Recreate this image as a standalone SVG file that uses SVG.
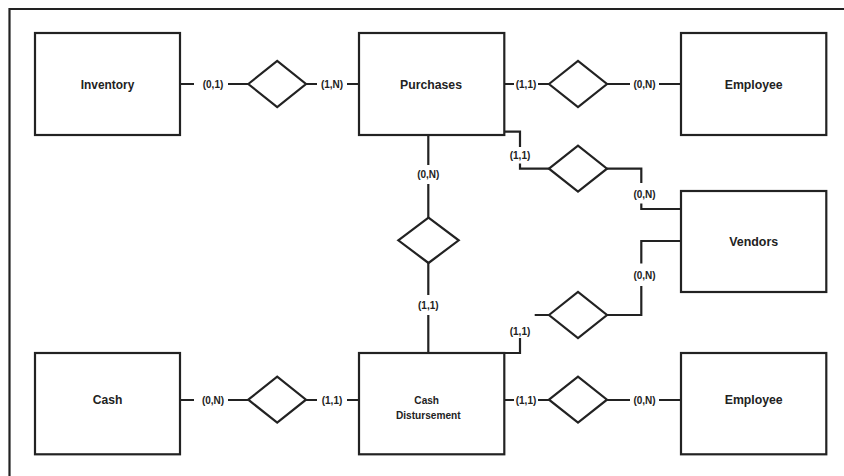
<svg xmlns="http://www.w3.org/2000/svg" width="844" height="476" viewBox="0 0 844 476">
<style>
.box{fill:#fff;stroke:#222;stroke-width:2.2}
.dia{fill:#fff;stroke:#222;stroke-width:2.2;stroke-linejoin:miter}
.ln{fill:none;stroke:#222;stroke-width:2.2}
.t{font-family:"Liberation Sans",Arial,sans-serif;font-weight:bold;font-size:13px;fill:#222;text-anchor:middle}
.s{font-family:"Liberation Sans",Arial,sans-serif;font-weight:bold;font-size:10px;fill:#222;text-anchor:middle}
.m{font-family:"Liberation Sans",Arial,sans-serif;font-weight:bold;font-size:10.5px;fill:#222;text-anchor:middle}
</style>
<rect width="844" height="476" fill="#fff"/>
<path class="ln" d="M9.5,476 V9 H844"/>

<g id="connectors">
  <path class="ln" d="M180,84 H194 M228,84 H249 M306,84 H317 M347,84 H359"/>
  <text class="s" x="213" y="87.6">(0,1)</text>
  <text class="s" x="332" y="87.6">(1,N)</text>
  <path class="ln" d="M504,84 H514 M538,84 H549 M607,84 H630 M659,84 H681"/>
  <text class="s" x="526" y="87.6">(1,1)</text>
  <text class="s" x="644.5" y="87.6">(0,N)</text>
  <path class="ln" d="M504,131.7 H520 V147 M520,163.5 V168.7 H549 M607,168.7 H641.3 V183 M641.3,203.5 V209 H681"/>
  <text class="s" x="520" y="158.6">(1,1)</text>
  <text class="s" x="644.5" y="197.6">(0,N)</text>
  <path class="ln" d="M428.3,135 V165 M428.3,184 V218 M428.3,263 V295 M428.3,315 V353"/>
  <text class="s" x="428.3" y="177.6">(0,N)</text>
  <text class="s" x="428.3" y="308.6">(1,1)</text>
  <path class="ln" d="M504,353 H520 V338 M534.7,315 H549 M607,315 H641.3 V286 M641.3,263.5 V241 H681"/>
  <text class="s" x="520" y="334.6">(1,1)</text>
  <text class="s" x="644.5" y="278.9">(0,N)</text>
  <path class="ln" d="M504,400 H514 M538,400 H549 M607,400 H630 M659,400 H681"/>
  <text class="s" x="526" y="403.6">(1,1)</text>
  <text class="s" x="644.5" y="403.6">(0,N)</text>
  <path class="ln" d="M180,400 H194 M228,400 H249 M306,400 H317 M347,400 H359"/>
  <text class="s" x="213" y="403.6">(0,N)</text>
  <text class="s" x="332" y="403.6">(1,1)</text>
</g>

<g id="rel-inv-pur"><polygon class="dia" points="248.3,84 277.2,61 306,84 277.2,107"/></g>
<g id="rel-pur-emp"><polygon class="dia" points="549,84 578,61 607,84 578,107"/></g>
<g id="rel-pur-ven"><polygon class="dia" points="549,168.7 578,145.7 607,168.7 578,191.7"/></g>
<g id="rel-pur-cd"><polygon class="dia" points="398.3,240.3 428.5,217.7 458.7,240.3 428.5,263"/></g>
<g id="rel-cd-ven"><polygon class="dia" points="549,315 578,292 607,315 578,338"/></g>
<g id="rel-cd-emp"><polygon class="dia" points="549,399.7 578,376.7 607,399.7 578,422.7"/></g>
<g id="rel-cash-cd"><polygon class="dia" points="248.3,399.7 277.2,376.7 306,399.7 277.2,422.7"/></g>

<g id="inventory"><rect class="box" x="35" y="33" width="145" height="102"/><text class="t" x="107.5" y="88.6" textLength="53.5" lengthAdjust="spacingAndGlyphs">Inventory</text></g>
<g id="purchases"><rect class="box" x="359" y="33" width="145.3" height="102"/><text class="t" x="431" y="88.6" textLength="62" lengthAdjust="spacingAndGlyphs">Purchases</text></g>
<g id="employee1"><rect class="box" x="681" y="33" width="145.3" height="102"/><text class="t" x="753.7" y="88.6" textLength="58" lengthAdjust="spacingAndGlyphs">Employee</text></g>
<g id="vendors"><rect class="box" x="681" y="191" width="145.3" height="101"/><text class="t" x="753.7" y="246" textLength="49" lengthAdjust="spacingAndGlyphs">Vendors</text></g>
<g id="cash"><rect class="box" x="35" y="353" width="145" height="101.3"/><text class="t" x="107.5" y="404" textLength="29.6" lengthAdjust="spacingAndGlyphs">Cash</text></g>
<g id="cash-disbursement"><rect class="box" x="359" y="353" width="145.3" height="101.3"/><text class="m" x="426.7" y="404.4" textLength="24.7" lengthAdjust="spacingAndGlyphs">Cash</text><text class="m" x="428.3" y="418.8" textLength="64.7" lengthAdjust="spacingAndGlyphs">Distursement</text></g>
<g id="employee2"><rect class="box" x="681" y="353" width="145.3" height="101.3"/><text class="t" x="753.7" y="404" textLength="58" lengthAdjust="spacingAndGlyphs">Employee</text></g>
</svg>
